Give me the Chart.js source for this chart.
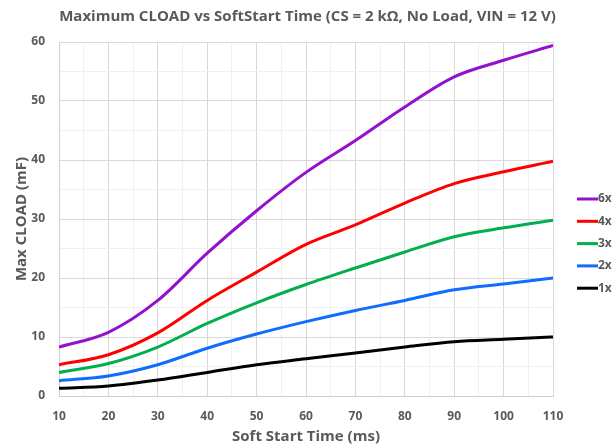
<!DOCTYPE html>
<html>
<head>
<meta charset="utf-8">
<script src="https://cdn.jsdelivr.net/npm/chart.js@4.4.1/dist/chart.umd.min.js"></script>
<style>
  html, body { margin: 0; padding: 0; background: #fff; }
  #wrap { width: 615px; height: 447px; }
</style>
</head>
<body>
<div id="wrap"><canvas id="grafico" width="615" height="447"></canvas></div>
<script>
// dados
const tempos = [10, 20, 30, 40, 50, 60, 70, 80, 90, 100, 110];
const serie6x = [8.3, 10.8, 16.2, 24.2, 31.4, 37.9, 43.3, 49.0, 54.1, 56.9, 59.4];
const serie4x = [5.3, 7.0, 10.7, 16.2, 21.0, 25.7, 29.0, 32.7, 36.0, 38.0, 39.8];
const serie3x = [4.0, 5.5, 8.3, 12.3, 15.8, 18.9, 21.7, 24.4, 27.0, 28.5, 29.8];
const serie2x = [2.6, 3.4, 5.3, 8.1, 10.5, 12.6, 14.5, 16.2, 18.0, 19.0, 20.0];
const serie1x = [1.3, 1.7, 2.7, 4.0, 5.3, 6.3, 7.3, 8.3, 9.2, 9.6, 10.0];
const nomes = ['6x', '4x', '3x', '2x', '1x'];
const cores = ['#9410CF', '#FF0000', '#00B050', '#0F6CFF', '#000000'];
const series = [serie6x, serie4x, serie3x, serie2x, serie1x];
const titulo = 'Maximum CLOAD vs SoftStart Time (CS = 2 kΩ, No Load, VIN = 12 V)';

const cinza = '#595959';
const fonte = '"Open Sans", Lato, sans-serif';

const datasets = series.map((valores, i) => ({
    label: nomes[i],
    data: tempos.map((t, j) => ({ x: t, y: valores[j] })),
    borderColor: cores[i],
    backgroundColor: cores[i],
    borderWidth: 3,
    pointRadius: 0,
    cubicInterpolationMode: 'monotone',
    fill: false
}));

// linhas de grade: principais a cada 10, secundárias a cada 5
function corGrade(ctx) {
    return ctx.tick && ctx.tick.value % 10 === 0 ? '#D9D9D9' : '#F0F0F0';
}

// título centrado na página e legenda à direita do gráfico
const extras = {
    id: 'extras',
    afterDraw(chart) {
        const c = chart.ctx;
        c.save();
        c.fillStyle = cinza;
        c.textBaseline = 'middle';
        c.textAlign = 'center';
        c.font = 'bold 15px ' + fonte;
        c.fillText(titulo, chart.width / 2, 17);

        c.font = 'bold 12px ' + fonte;
        c.textAlign = 'left';
        chart.data.datasets.forEach((ds, i) => {
            const y = 199 + i * 22.3;
            c.strokeStyle = ds.borderColor;
            c.lineWidth = 3;
            c.beginPath();
            c.moveTo(577, y);
            c.lineTo(598, y);
            c.stroke();
            c.fillStyle = cinza;
            c.fillText(ds.label, 598, y);
        });
        c.restore();
    }
};

const ctx = document.getElementById('grafico').getContext('2d');
new Chart(ctx, {
    type: 'line',
    data: { datasets: datasets },
    plugins: [extras],
    options: {
        responsive: false,
        animation: false,
        layout: { padding: { top: 42, right: 62, bottom: 0, left: 0 } },
        plugins: {
            title: { display: false },
            legend: { display: false },
            tooltip: { enabled: false }
        },
        scales: {
            x: {
                type: 'linear',
                min: 10,
                max: 110,
                afterFit: s => { s.height = 51; },
                border: { color: '#D0D0D0', width: 1 },
                grid: { color: corGrade, drawTicks: false },
                ticks: {
                    stepSize: 5,
                    autoSkip: false,
                    maxRotation: 0,
                    padding: 13,
                    color: cinza,
                    font: { family: fonte, size: 12, weight: 'bold' },
                    callback: v => (v % 10 === 0 ? v : '')
                },
                title: {
                    display: true,
                    text: 'Soft Start Time (ms)',
                    color: cinza,
                    font: { family: fonte, size: 15, weight: 'bold' },
                    padding: { top: 0, bottom: 1 }
                }
            },
            y: {
                min: 0,
                max: 60,
                afterFit: s => { s.width = 59; },
                border: { color: '#D0D0D0', width: 1 },
                grid: { color: corGrade, drawTicks: false },
                ticks: {
                    stepSize: 5,
                    autoSkip: false,
                    padding: 14,
                    color: cinza,
                    font: { family: fonte, size: 12, weight: 'bold' },
                    callback: v => (v % 10 === 0 ? v : '')
                },
                title: {
                    display: true,
                    text: 'Max CLOAD (mF)',
                    color: cinza,
                    font: { family: fonte, size: 15, weight: 'bold' },
                    padding: { top: 13, bottom: 0 }
                }
            }
        }
    }
});
</script>
</body>
</html>
